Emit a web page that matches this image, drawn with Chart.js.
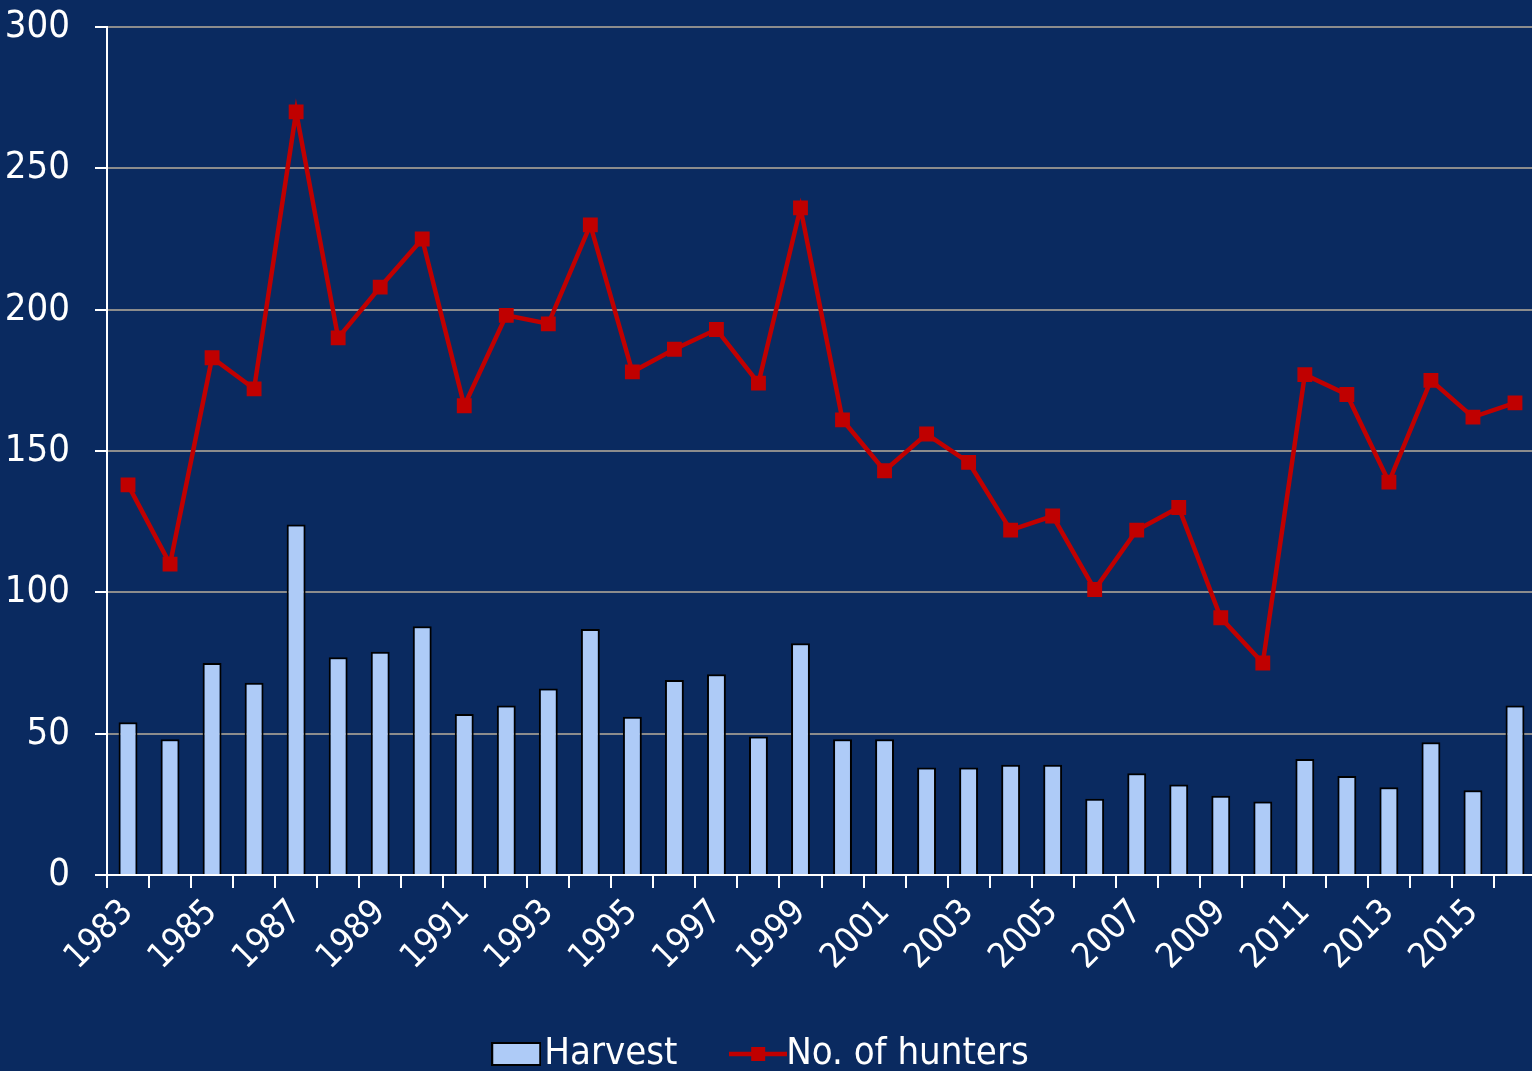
<!DOCTYPE html>
<html lang="en">
<head>
  <meta charset="UTF-8" />
  <title>Harvest and No. of hunters</title>
  <script src="https://cdn.jsdelivr.net/npm/chart.js"></script>
  <style>
    html, body {
      margin: 0;
      padding: 0;
      background: #0a2a60;
      overflow: hidden;
    }
  </style>
</head>
<body>
  <canvas id="chart" width="1536" height="1071"></canvas>

  <script>
    const years = ["1983","1984","1985","1986","1987","1988","1989","1990","1991","1992",
      "1993","1994","1995","1996","1997","1998","1999","2000","2001","2002",
      "2003","2004","2005","2006","2007","2008","2009","2010","2011","2012",
      "2013","2014","2015","2016"];
    const harvest = [54, 48, 75, 68, 124, 77, 79, 88, 57, 60,
      66, 87, 56, 69, 71, 49, 82, 48, 48, 38,
      38, 39, 39, 27, 36, 32, 28, 26, 41, 35,
      31, 47, 30, 60];
    const hunters = [138, 110, 183, 172, 270, 190, 208, 225, 166, 198,
      195, 230, 178, 186, 193, 174, 236, 161, 143, 156,
      146, 122, 127, 101, 122, 130, 91, 75, 177, 170,
      139, 175, 162, 167];
    const yTicks = [0, 50, 100, 150, 200, 250, 300];

    // narrow font if there is one, else the condensed DejaVu
    function hasFont(name) {
      const g = document.createElement("canvas").getContext("2d");
      const s = "No. of hunters 1983";
      return ["monospace", "serif"].some(base => {
        g.font = "40px " + base;
        const w0 = g.measureText(s).width;
        g.font = "40px '" + name + "', " + base;
        return g.measureText(s).width !== w0;
      });
    }
    const narrow = ["Liberation Sans Narrow", "Arial Narrow"].find(hasFont);
    const FONT = narrow ? "'" + narrow + "', sans-serif" : "'DejaVu Sans Condensed', sans-serif";
    const SZ = narrow ? { y: 42, x: 38, legend: 42 } : { y: 38, x: 35, legend: 38 };

    const RED = "#c00000";
    const BAR = "#aecbf7";

    // legend icons
    function harvestIcon() {
      const c = document.createElement("canvas");
      c.width = 50; c.height = 24;
      const g = c.getContext("2d");
      g.fillStyle = "#000";
      g.fillRect(0, 0, 50, 24);
      g.fillStyle = BAR;
      g.fillRect(2, 2, 46, 20);
      return c;
    }
    function huntersIcon() {
      const c = document.createElement("canvas");
      c.width = 58; c.height = 24;
      const g = c.getContext("2d");
      g.strokeStyle = RED;
      g.lineWidth = 4.5;
      g.beginPath();
      g.moveTo(0, 12); g.lineTo(58, 12);
      g.stroke();
      g.fillStyle = RED;
      g.fillRect(22, 5, 14, 14);
      return c;
    }

    const ctx = document.getElementById("chart").getContext("2d");
    new Chart(ctx, {
      data: {
        labels: years,
        datasets: [
          {
            type: "line",
            label: "No. of hunters",
            data: hunters,
            borderColor: RED,
            backgroundColor: RED,
            borderWidth: 4.5,
            pointStyle: "rect",
            pointRadius: 10.5,
            pointBackgroundColor: RED,
            pointBorderColor: RED,
            pointBorderWidth: 0,
            tension: 0,
            order: 0
          },
          {
            type: "bar",
            label: "Harvest",
            data: harvest,
            backgroundColor: BAR,
            borderColor: "#000",
            borderWidth: 2,
            barPercentage: 0.45,
            categoryPercentage: 1,
            order: 1
          }
        ]
      },
      options: {
        responsive: false,
        animation: false,
        layout: { autoPadding: false, padding: { top: 27, left: 0, right: 0, bottom: 0 } },
        scales: {
          x: {
            offset: true,
            grid: {
              offset: true,
              drawOnChartArea: false,
              drawTicks: true,
              tickLength: 13,
              tickColor: "#fff",
              lineWidth: 2
            },
            border: { color: "#fff", width: 2 },
            ticks: {
              color: "#fff",
              font: { family: FONT, size: SZ.x },
              autoSkip: false,
              maxRotation: 45,
              minRotation: 45,
              padding: 4,
              callback(v, i) { return i % 2 === 0 ? years[i] : ""; }
            },
            afterFit(s) {
              s.height = 110;
              s.paddingLeft = 0;
              s.paddingRight = 0;
            }
          },
          y: {
            min: 0,
            max: 300,
            afterBuildTicks(s) { s.ticks = yTicks.map(v => ({ value: v })); },
            grid: {
              color: "#8c8c8c",
              lineWidth: 2,
              tickColor: "#fff",
              tickLength: 12
            },
            border: { color: "#fff", width: 2 },
            ticks: {
              color: "#fff",
              font: { family: FONT, size: SZ.y },
              padding: 25
            },
            afterFit(s) {
              s.width = 107;
              s.paddingTop = 0;
              s.paddingBottom = 0;
            }
          }
        },
        plugins: {
          tooltip: { enabled: false },
          legend: {
            position: "bottom",
            maxHeight: 86,
            labels: {
              color: "#fff",
              font: { family: FONT, size: SZ.legend },
              usePointStyle: true,
              pointStyleWidth: 18,
              padding: 50,
              sort(a, b) { return b.datasetIndex - a.datasetIndex; },
              generateLabels(chart) {
                const items = Chart.defaults.plugins.legend.labels.generateLabels(chart);
                items.forEach(it => {
                  if (it.datasetIndex === 1) {
                    it.pointStyle = harvestIcon();
                    it.text = "Harvest  ";
                  } else {
                    it.pointStyle = huntersIcon();
                  }
                  it.fontColor = "#fff";
                });
                return items;
              }
            }
          }
        }
      }
    });
  </script>
</body>
</html>
